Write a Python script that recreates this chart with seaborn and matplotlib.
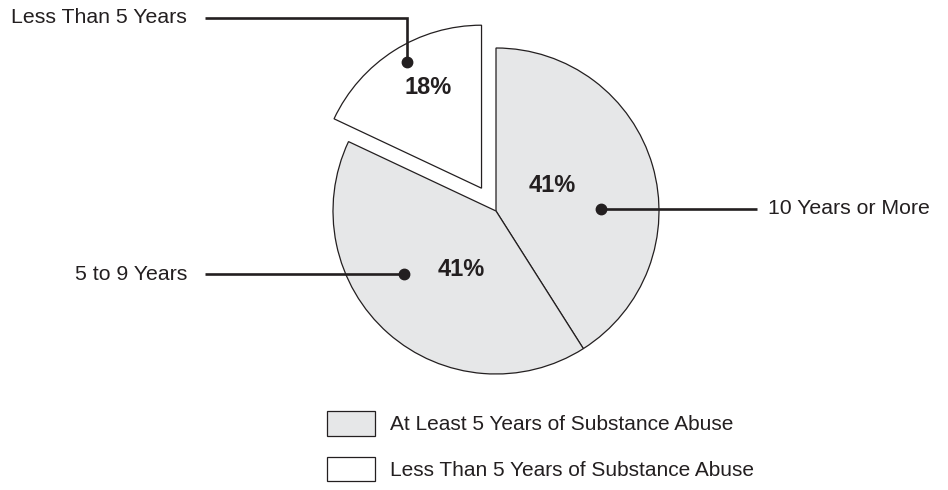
import matplotlib.pyplot as plt
import seaborn as sns
from matplotlib.patches import Patch

# data
labels = ["10 Years or More", "5 to 9 Years", "Less Than 5 Years"]
shares = [41, 41, 18]
groups = ["At Least 5 Years of Substance Abuse", "Less Than 5 Years of Substance Abuse"]
group_of = [0, 0, 1]

sns.set_theme(style="white")
plt.rcParams['font.family'] = ['Liberation Sans', 'DejaVu Sans']

ink = "#231f20"
fills = ["#e6e7e8", "#ffffff"]

W, H = 948, 490
fig = plt.figure(figsize=(W / 100, H / 100), dpi=100)
ax = fig.add_axes([0, 0, 1, 1])

# pie centre / radius in pixel units (y measured from bottom)
cx, cy, r = 496, H - 211, 163
ax.pie(shares, startangle=90, counterclock=False, center=(cx, cy), radius=r,
       explode=[0, 0, 27], colors=[fills[g] for g in group_of],
       wedgeprops=dict(edgecolor=ink, linewidth=0.9))
ax.set_xlim(0, W)
ax.set_ylim(0, H)
ax.set_aspect('equal')
ax.axis('off')

# percentage labels
pct_pos = [(552, 185), (461, 270), (428, 88)]
for v, (x, y) in zip(shares, pct_pos):
    ax.text(x, H - y, f"{v}%", ha='center', va='center', fontsize=17,
            fontweight='bold', color=ink)

# leader lines with dots
lw = 1.9
def leader(xs, ys):
    ax.plot(xs, [H - y for y in ys], color=ink, lw=lw, solid_capstyle='butt',
            solid_joinstyle='miter')
    ax.plot(xs[-1], H - ys[-1], 'o', color=ink, ms=7.5)

fs = 15.3
leader([757, 601], [209, 209])
ax.text(768, H - 209, labels[0], ha='left', va='center', fontsize=fs, color=ink)

leader([205, 404], [274, 274])
ax.text(187, H - 274, labels[1], ha='right', va='center', fontsize=fs, color=ink)

leader([205, 407, 407], [18, 18, 62])
ax.text(187, H - 18, labels[2], ha='right', va='center', fontsize=fs, color=ink)

# legend
handles = [Patch(facecolor=fills[i], edgecolor=ink, lw=0.9, label=groups[i])
           for i in range(len(groups))]
leg = ax.legend(handles=handles, loc='upper left', bbox_to_anchor=(327 / W, 1 - 411 / H),
                frameon=False, fontsize=15, handlelength=2.3, handleheight=1.45,
                handletextpad=0.7, labelspacing=1.0, borderpad=0, borderaxespad=0)
for t in leg.get_texts():
    t.set_color(ink)

fig.savefig("out.png", dpi=100)
